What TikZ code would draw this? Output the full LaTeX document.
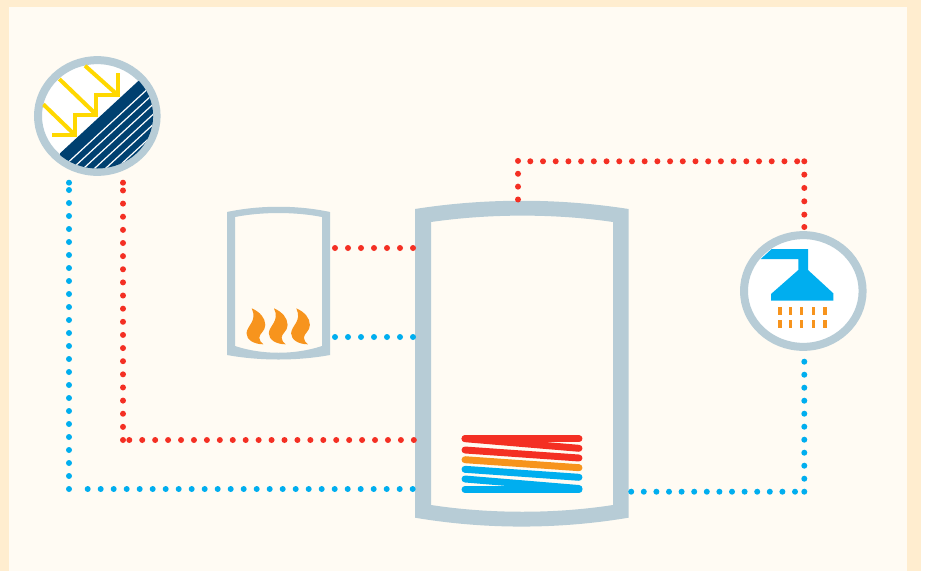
\documentclass[tikz,border=0pt]{standalone}
\usepackage{xcolor}
\usetikzlibrary{shapes.geometric,calc}
\definecolor{bandcream}{RGB}{255,237,207}
\definecolor{panelcream}{RGB}{255,251,243}
\definecolor{wallgrey}{RGB}{183,204,214}
\definecolor{hotred}{RGB}{244,47,35}
\definecolor{coldblue}{RGB}{0,174,239}
\definecolor{flameorange}{RGB}{247,148,29}
\definecolor{sunyellow}{RGB}{255,216,0}
\definecolor{panelnavy}{RGB}{0,64,112}

\begin{document}
\begin{tikzpicture}[x=0.75pt,y=-0.75pt,
  ring/.style={ellipse, draw=wallgrey, fill=white, line width=6pt, inner sep=0pt,
    minimum width=88.95pt, minimum height=83.8pt},
  vessel/.style={rectangle, inner sep=0pt, outer sep=0pt},
  wall/.style={fill=wallgrey, even odd rule},
  hotline/.style={hotred, line width=4.5pt, line cap=round, dash pattern=on 0pt off #1pt},
  coldline/.style={coldblue, line width=4.5pt, line cap=round, dash pattern=on 0pt off #1pt},
  coil/.style={line width=5.2pt, line cap=round},
  rays/.style={sunyellow, line width=3pt},
  hatch/.style={white, line width=0.9pt},
  flame/.pic={\path[fill=flameorange] (0,0) .. controls (8.3,3.7) and (13.6,9.7) .. (13.6,16.7)
    .. controls (13.6,23) and (7.6,25) .. (7.6,29.5) .. controls (7.6,32) and (9.6,34.7) .. (11.6,36)
    .. controls (2.3,36) and (-5.2,31.5) .. (-5.2,25) .. controls (-4.8,17) and (6,13) .. cycle;},
  drop/.style={flameorange, line width=2.6pt}]
\useasboundingbox (0,0) rectangle (927,571);
\fill[bandcream] (0,0) rectangle (921,571);
\fill[panelcream] (9,7) rectangle (907,571);

% collector
\node[ring] (collector) at (97.3,116) {};
\begin{scope}
\clip (97.3,116) ellipse [x radius=55.8, y radius=52.5];
\fill[panelnavy] (60,153.3) -- (138.3,81) -- (170,81) -- (170,180) -- (60,180) -- cycle;
\draw[hatch] (49,180) -- ++(130,-120);
\draw[hatch] (60,180) -- ++(130,-120);
\draw[hatch] (71,180) -- ++(130,-120);
\draw[hatch] (82,180) -- ++(130,-120);
\draw[hatch] (93,180) -- ++(130,-120);
\draw[hatch] (104,180) -- ++(130,-120);
\draw[rays] (52,135) -- (75,135) -- (75,115) -- (96,115) -- (96,95) -- (117.7,95) -- (117.7,73);
\draw[rays] (43.3,104.3) -- (75,135);
\draw[rays] (59.3,79) -- (96.7,115);
\draw[rays] (85,65.7) -- (117.7,95);
\end{scope}

% boiler
\node[vessel, minimum width=77.25pt, minimum height=114pt] (boiler) at (278.5,283) {};
\path[wall] (227,212) .. controls (260,205) and (297,205) .. (330,212)
  -- (330,355) .. controls (297,361) and (260,361) .. (227,355) -- cycle
  (235,217) -- (235,346) .. controls (262,355) and (295,355) .. (322,346)
  -- (322,217) .. controls (295,211.7) and (262,211.7) .. (235,217) -- cycle;
\pic at (251.7,308.3) {flame};
\pic at (274,308.3) {flame};
\pic at (296.3,308.3) {flame};

% tank
\node[vessel, minimum width=160pt, minimum height=244.5pt] (tank) at (522,363) {};
\path[wall] (415,209) .. controls (485,198) and (558,198) .. (628.5,209)
  -- (628.5,517.7) .. controls (558,529.5) and (485,529.5) .. (415,517.7) -- cycle
  (431,222) -- (431,505) .. controls (490,514) and (555,514) .. (613,505)
  -- (613,222) .. controls (555,213.5) and (490,213.5) .. (431,222) -- cycle;
\draw[coil, hotred] (465,438.7) -- (579,438.7);
\draw[coil, hotred] (465,438.7) -- (579,448.3);
\draw[coil, hotred] (465,450) -- (579,458);
\draw[coil, flameorange] (465,459.7) -- (579,467.7);
\draw[coil, coldblue] (465,469.3) -- (579,477.3);
\draw[coil, coldblue] (465,479) -- (579,488.5);
\draw[coil, coldblue] (465,489.5) -- (579,489.5);

% shower
\node[ring] (shower) at (803.3,291) {};
\fill[coldblue] (760.7,259) -- (771.7,249) -- (808,249) -- (808,270) -- (833.3,293.3) -- (833.3,300.7)
  -- (771,300.7) -- (771,294) -- (798.3,270) -- (798.3,259) -- cycle;
\foreach \dropx in {780,790.7,801.7,813.3,825} {
  \draw[drop] (\dropx,307.3) -- (\dropx,315);
  \draw[drop] (\dropx,320) -- (\dropx,328.3);
}

% pipes
\coordinate (collectorcold) at (69,182.7);
\coordinate (coldupper) at (69,189.7);
\coordinate (coldcorner) at (69,489);
\coordinate (coldrun) at (87.7,489);
\coordinate (tankcoldin) at (413,489);
\coordinate (collectorhot) at (123,182.7);
\coordinate (hotupper) at (123,190.4);
\coordinate (hotcorner) at (123,440);
\coordinate (hotrun) at (129.3,440);
\coordinate (tankhotin) at (414,440);
\coordinate (boilerhot) at (335,248);
\coordinate (tankboilerhot) at (413.5,248);
\coordinate (boilercold) at (335,337);
\coordinate (tankboilercold) at (413.5,337);
\coordinate (tanktop) at (518,199.5);
\coordinate (topleft) at (518,160.5);
\coordinate (toprun) at (530.3,161.3);
\coordinate (toprunend) at (797.3,161.3);
\coordinate (topright) at (804.3,161.3);
\coordinate (showerupper) at (804.3,214.8);
\coordinate (showertop) at (804.3,227);
\coordinate (tankcoldout) at (631,491.7);
\coordinate (bottomrun) at (795,491.7);
\coordinate (bottomright) at (804.3,491.7);
\coordinate (showerbottom) at (804.3,361.5);
\draw[coldline=9.75] (coldcorner) -- (coldupper) (collectorcold) -- (coldupper) (coldrun) -- (tankcoldin);
\draw[hotline=9.85] (hotcorner) -- (hotupper) (collectorhot) -- (hotupper);
\draw[hotline=9.7] (hotrun) -- (tankhotin);
\draw[hotline=9.75] (boilerhot) -- (tankboilerhot);
\draw[coldline=9.75] (boilercold) -- (tankboilercold);
\draw[hotline=9.65] (tanktop) -- (topleft);
\draw[hotline=9.53] (toprun) -- (toprunend);
\draw[hotline=10] (topright) -- (showerupper) (showertop) -- (showerupper);
\draw[coldline=9.45] (bottomrun) -- (tankcoldout);
\draw[coldline=9.75] (bottomright) -- (showerbottom);
\end{tikzpicture}
\end{document}
